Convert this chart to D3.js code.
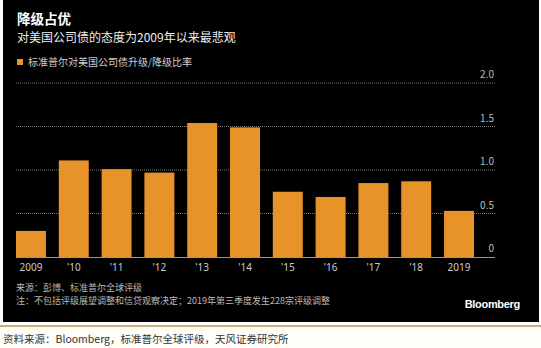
<!DOCTYPE html>
<html><head><meta charset="utf-8">
<script src="https://cdn.jsdelivr.net/npm/d3@7"></script>
<style>body{margin:0;background:#fff;}svg{display:block;font-family:"Noto Sans CJK SC","Noto Sans",sans-serif;}</style>
</head><body>
<svg id="c" width="541" height="348"></svg>
<script>
const categories = ["2009","'10","'11","'12","'13","'14","'15","'16","'17","'18","2019"];
const values = [0.30, 1.11, 1.01, 0.97, 1.54, 1.49, 0.75, 0.69, 0.85, 0.87, 0.53];
const yTicks = [0, 0.5, 1.0, 1.5, 2.0];
const yTickLabels = ["0", "0.5", "1.0", "1.5", "2.0"];

const svg = d3.select("#c");
svg.append("rect").attr("x",3).attr("y",0).attr("width",536).attr("height",322).attr("fill","#000");
svg.append("rect").attr("x",0).attr("y",325).attr("width",541).attr("height",2).attr("fill","#c9b07a");
svg.append("rect").attr("x",0).attr("y",327).attr("width",541).attr("height",21).attr("fill","#fffdf8");

svg.append("text").attr("x",17).attr("y",24).attr("fill","#fff").attr("font-size",13.5).attr("font-weight","bold").text("降级占优");
svg.append("text").attr("x",17).attr("y",42).attr("fill","#eee").attr("font-size",12).text("对美国公司债的态度为2009年以来最悲观");
svg.append("rect").attr("x",17).attr("y",59).attr("width",6).attr("height",6).attr("fill","#e8922a");
svg.append("text").attr("x",28).attr("y",66).attr("fill","#ccc").attr("font-size",10).text("标准普尔对美国公司债升级/降级比率");

const x = d3.scaleBand().domain(categories).range([16,474]).paddingInner(0.3).paddingOuter(0);
const y = d3.scaleLinear().domain([0,2]).range([257,83]);

const g = svg.append("g");
yTicks.forEach((t,i)=>{
  if(t>0) g.append("line").attr("x1",16).attr("x2",495).attr("y1",y(t)).attr("y2",y(t))
    .attr("stroke","#777").attr("stroke-width",1).attr("stroke-dasharray","1,1");
  g.append("text").attr("x",494).attr("y",y(t)-5).attr("text-anchor","end").attr("fill","#bbb").attr("font-size",10).text(yTickLabels[i]);
});

g.selectAll("rect.bar").data(values).enter().append("rect").attr("class","bar")
  .attr("x",(d,i)=>x(categories[i])).attr("width",x.bandwidth())
  .attr("y",d=>y(d)).attr("height",d=>y(0)-y(d)).attr("fill","#e8922a");

g.append("line").attr("x1",16).attr("x2",495).attr("y1",257.5).attr("y2",257.5).attr("stroke","#999").attr("stroke-width",1);

const xa = d3.axisBottom(x).tickSize(0).tickPadding(6);
const ax = svg.append("g").attr("transform","translate(0,258)").call(xa);
ax.select(".domain").remove();
ax.selectAll("text").attr("fill","#ccc").attr("font-size",10).attr("font-family","'Noto Sans',sans-serif");

svg.append("text").attr("x",16).attr("y",291).attr("fill","#bbb").attr("font-size",9).text("来源：彭博、标准普尔全球评级");
svg.append("text").attr("x",16).attr("y",304).attr("fill","#bbb").attr("font-size",9).text("注：不包括评级展望调整和信贷观察决定；2019年第三季度发生228宗评级调整");
svg.append("text").attr("x",520).attr("y",308).attr("text-anchor","end").attr("fill","#fff").attr("font-size",11).attr("font-weight","bold").attr("font-family","'Liberation Sans',Arial,sans-serif").attr("letter-spacing","-0.3").text("Bloomberg");

svg.append("text").attr("x",3).attr("y",343).attr("fill","#333").attr("font-size",10.5).text("资料来源：Bloomberg，标准普尔全球评级，天风证券研究所");
</script>
</body></html>
